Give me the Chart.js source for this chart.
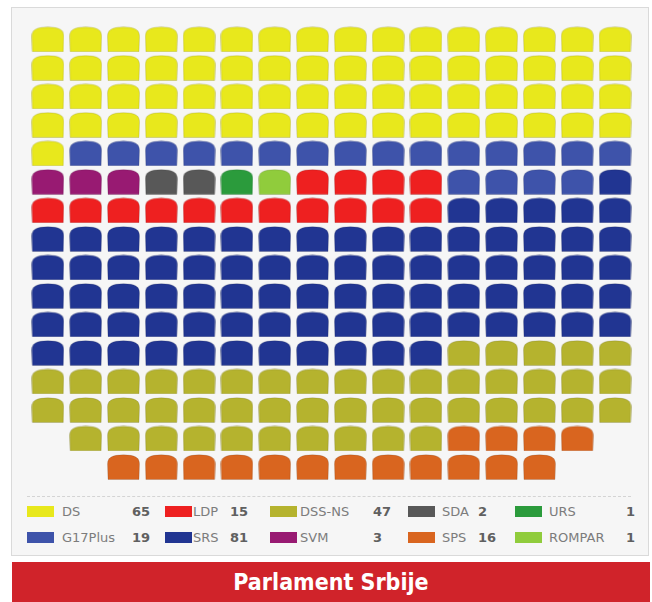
<!DOCTYPE html>
<html>
<head>
<meta charset="utf-8">
<script src="https://cdn.jsdelivr.net/npm/chart.js@4.4.1/dist/chart.umd.min.js"></script>
<style>
  body { margin: 0; width: 652px; height: 602px; position: relative; overflow: hidden; background: #fff; font-family: "DejaVu Sans", sans-serif; }
  #panel { position: absolute; left: 11px; top: 7px; width: 638px; height: 549px; box-sizing: border-box; background: #f6f6f6; border: 1px solid #dadada; }
  #seats { position: absolute; left: 0; top: 0; }
  #sep { position: absolute; left: 27px; top: 496px; width: 604px; border-top: 1px dashed #d4d4d4; }
  .sw { position: absolute; width: 27px; height: 11px; }
  .lb { position: absolute; font-size: 13px; line-height: 14px; color: #7c7c7c; white-space: nowrap; }
  .nm { position: absolute; font-size: 13px; line-height: 14px; color: #606060; font-weight: bold; white-space: nowrap; }
  #banner { position: absolute; left: 12px; top: 562px; width: 638px; height: 40px; background: #d0232a; color: #fff;
            font: bold 23px "DejaVu Sans Condensed", "DejaVu Sans", sans-serif; text-align: center; line-height: 40px; }
</style>
</head>
<body>
<div id="panel"></div>
<canvas id="seats" width="652" height="495"></canvas>
<div id="sep"></div>
<div id="legend"></div>
<div id="banner">Parlament Srbije</div>
<script>
// parties and seats
const parties = ["DS", "G17Plus", "SRS", "SVM", "LDP", "SPS", "DSS-NS", "SDA", "URS", "ROMPAR"];
const seats = [65, 19, 81, 3, 15, 16, 47, 2, 1, 1];
const colors = ["#e8e81c", "#3e53aa", "#213592", "#981a72", "#ee2020", "#d9651f", "#b5b32e", "#585858", "#2b9b3c", "#90cc3c"];

// order in which the seats are filled, row by row
const fillOrder = ["DS", "G17Plus", "SVM", "SDA", "URS", "ROMPAR", "LDP", "G17Plus", "SRS", "LDP", "SRS", "DSS-NS", "SPS"];
const fillCounts = [65, 15, 3, 2, 1, 1, 4, 4, 1, 11, 80, 47, 16];

// hall rows: first column and number of seats in each row
const rowStart = [1, 1, 1, 1, 1, 1, 1, 1, 1, 1, 1, 1, 1, 1, 2, 3];
const rowLength = [16, 16, 16, 16, 16, 16, 16, 16, 16, 16, 16, 16, 16, 16, 14, 12];

// legend rows
const legendRow1 = ["DS", "LDP", "DSS-NS", "SDA", "URS"];
const legendRow2 = ["G17Plus", "SRS", "SVM", "SPS", "ROMPAR"];

// walk the hall and give every seat its party
const seatSlots = [];
rowLength.forEach((len, r) => {
  for (let i = 0; i < len; i++) seatSlots.push({ x: rowStart[r] + i, y: r + 1 });
});
const points = {};
parties.forEach((p) => (points[p] = []));
let k = 0;
fillOrder.forEach((p, i) => {
  for (let j = 0; j < fillCounts[i]; j++) points[p].push(seatSlots[k++]);
});

function seatImage(color) {
  const w = 33, h = 26;
  const c = document.createElement("canvas");
  c.width = w;
  c.height = h;
  const g = c.getContext("2d");
  g.beginPath();
  g.moveTo(1, h - 0.5);
  g.lineTo(0.5, 10);
  g.bezierCurveTo(0.5, 3.5, 5, 1, w / 2, 0.8);
  g.bezierCurveTo(w - 5, 1, w - 0.5, 3.5, w - 0.5, 10);
  g.lineTo(w - 1, h - 0.5);
  g.closePath();
  g.fillStyle = color;
  g.fill();
  g.strokeStyle = "rgba(0,0,0,0.12)";
  g.lineWidth = 1;
  g.stroke();
  return c;
}

new Chart(document.getElementById("seats"), {
  type: "scatter",
  data: {
    datasets: parties.map((p, i) => ({
      label: p,
      data: points[p],
      pointStyle: seatImage(colors[i]),
      backgroundColor: colors[i],
    })),
  },
  options: {
    responsive: false,
    animation: false,
    events: [],
    layout: { padding: 0 },
    plugins: { legend: { display: false }, tooltip: { enabled: false } },
    scales: {
      x: { type: "linear", display: false, min: -0.1328, max: 16.846 },
      y: { type: "linear", display: false, reverse: true, min: -0.2027, max: 16.807 },
    },
  },
});

// legend
const legendCols = [
  [27, 62, 132],
  [165, 193, 230],
  [270, 300, 373],
  [408, 442, 478],
  [515, 549, 626],
];
const legend = document.getElementById("legend");
[legendRow1, legendRow2].forEach((row, r) => {
  const cy = r === 0 ? 512 : 538;
  row.forEach((p, c) => {
    const i = parties.indexOf(p);
    const [sx, lx, nx] = legendCols[c];
    const sw = document.createElement("div");
    sw.className = "sw";
    sw.style.left = sx + "px";
    sw.style.top = cy - 6 + "px";
    sw.style.background = colors[i];
    legend.appendChild(sw);
    const lb = document.createElement("div");
    lb.className = "lb";
    lb.style.left = lx + "px";
    lb.style.top = cy - 7 + "px";
    lb.textContent = p;
    legend.appendChild(lb);
    const nm = document.createElement("div");
    nm.className = "nm";
    nm.style.left = nx + "px";
    nm.style.top = cy - 7 + "px";
    nm.textContent = seats[i];
    legend.appendChild(nm);
  });
});
</script>
</body>
</html>
